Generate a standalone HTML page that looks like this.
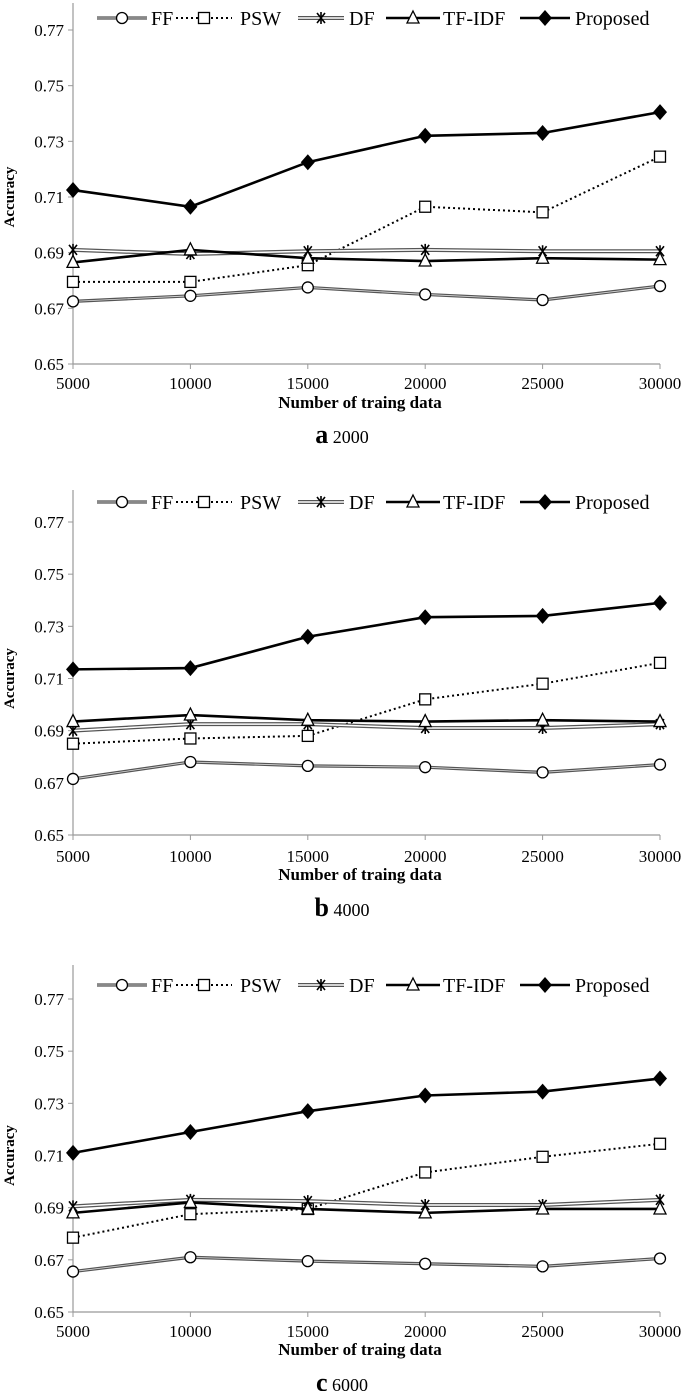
<!DOCTYPE html>
<html><head><meta charset="utf-8"><style>
body{margin:0;background:#fff;}
svg{display:block;font-family:"Liberation Serif",serif;}
</style></head><body>
<svg id="chart" width="685" height="1391" viewBox="0 0 685 1391"></svg>
<script>
const categories=[5000,10000,15000,20000,25000,30000];
const yTicks=[0.65,0.67,0.69,0.71,0.73,0.75,0.77];
const seriesNames=["FF","PSW","DF","TF-IDF","Proposed"];
const captions=[["a","2000"],["b","4000"],["c","6000"]];
const ffA=[.6725,.6745,.6775,.675,.673,.678];
const pswA=[.6795,.6795,.6855,.7065,.7045,.7245];
const dfA=[.691,.6895,.6905,.691,.6905,.6905];
const tfA=[.6865,.691,.688,.687,.688,.6875];
const propA=[.7125,.7065,.7225,.732,.733,.7405];
const ffB=[.6715,.678,.6765,.676,.674,.677];
const pswB=[.685,.687,.688,.702,.708,.716];
const dfB=[.690,.6925,.6925,.691,.691,.6925];
const tfB=[.6935,.696,.694,.6935,.694,.6935];
const propB=[.7135,.714,.726,.7335,.734,.739];
const ffC=[.6655,.671,.6695,.6685,.6675,.6705];
const pswC=[.6785,.6875,.6895,.7035,.7095,.7145];
const dfC=[.6905,.693,.6925,.691,.691,.693];
const tfC=[.688,.692,.6895,.688,.6895,.6895];
const propC=[.711,.719,.727,.733,.7345,.7395];
const panelData=[[ffA,pswA,dfA,tfA,propA],[ffB,pswB,dfB,tfB,propB],[ffC,pswC,dfC,tfC,propC]];
const layouts=[{y77:30,y65:364,top:3,leg:18,tick:383,title:402,cap:437},
{y77:522,y65:835,top:490,leg:502,tick:856,title:874,cap:910},
{y77:999,y65:1312,top:965,leg:985,tick:1331,title:1349,cap:1385}];
const NS="http://www.w3.org/2000/svg";
const svg=document.getElementById('chart');
function mk(tag,attrs,parent,text){const e=document.createElementNS(NS,tag);for(const k in attrs)e.setAttribute(k,attrs[k]);if(text!==undefined)e.textContent=text;(parent||svg).appendChild(e);return e;}
const X0=73,X1=660;
function xs(i){return X0+(X1-X0)*i/(categories.length-1);}
function drawMarker(g,k,x,y){
 if(k===0)mk('circle',{cx:x,cy:y,r:5.5,fill:'#fff',stroke:'#000','stroke-width':1.3},g);
 else if(k===1)mk('rect',{x:x-5.5,y:y-5.5,width:11,height:11,fill:'#fff',stroke:'#000','stroke-width':1.3},g);
 else if(k===2){mk('path',{d:`M${x-4},${y-5}L${x+4},${y+5}M${x+4},${y-5}L${x-4},${y+5}M${x},${y-6}L${x},${y+6}`,stroke:'#000','stroke-width':1.6},g);}
 else if(k===3)mk('polygon',{points:`${x},${y-7} ${x+6},${y+5} ${x-6},${y+5}`,fill:'#fff',stroke:'#000','stroke-width':1.3},g);
 else mk('polygon',{points:`${x},${y-8} ${x+7},${y} ${x},${y+8} ${x-7},${y}`,fill:'#000'},g);
}
function drawLine(g,k,pts){
 const d=pts.map((p,i)=>(i?'L':'M')+p[0]+','+p[1]).join('');
 if(k===0){mk('path',{d,fill:'none',stroke:'#555','stroke-width':3.2},g);mk('path',{d,fill:'none',stroke:'#ddd','stroke-width':0.8},g);}
 else if(k===1)mk('path',{d,fill:'none',stroke:'#000','stroke-width':2,'stroke-dasharray':'2,3'},g);
 else if(k===2){mk('path',{d,fill:'none',stroke:'#555','stroke-width':4},g);mk('path',{d,fill:'none',stroke:'#fff','stroke-width':1.5},g);}
 else mk('path',{d,fill:'none',stroke:'#000','stroke-width':2.6},g);
}
const legX=[[97,147,151],[176,232,240],[298,344,349],[386,440,443],[520,570,575]];
layouts.forEach((L,p)=>{
 const g=mk('g',{});
 
 
 const ys=v=>L.y65+(L.y77-L.y65)*(v-0.65)/0.12;
 const ax=mk('path',{d:`M${X0},${L.top}L${X0},${L.y65}L${X1},${L.y65}`,fill:'none',stroke:'#999','stroke-width':1.2},g);
 
 yTicks.forEach(t=>{const y=ys(t);mk('line',{x1:X0-5,x2:X0,y1:y,y2:y,stroke:'#999'},g);
  const tx=mk('text',{x:X0-9,y:y+6,'text-anchor':'end','font-size':17},g,t.toFixed(2));
  });
 categories.forEach((c,i)=>{const x=xs(i);mk('line',{x1:x,x2:x,y1:L.y65,y2:L.y65+5,stroke:'#999'},g);
  const tx=mk('text',{x:x,y:L.tick+6,'text-anchor':'middle','font-size':17},g,String(c));
  });
 const xt=mk('text',{x:360,y:L.title+6,'text-anchor':'middle','font-size':17,'font-weight':'bold'},g,'Number of traing data');
 
 const cy=(L.y77+L.y65)/2;
 const yt=mk('text',{x:14,y:cy,'text-anchor':'middle','font-size':15,'font-weight':'bold',transform:`rotate(-90 14 ${cy})`},g,'Accuracy');
 
 const cap=mk('text',{x:342,y:L.cap+6,'text-anchor':'middle','font-size':18},g);
 
 mk('tspan',{'font-size':26,'font-weight':'bold'},cap,captions[p][0]);
 mk('tspan',{},cap,' '+captions[p][1]);
 panelData[p].forEach((vals,k)=>{
  const sg=mk('g',{},g);
  
  
  const pts=vals.map((v,i)=>[xs(i),ys(v)]);
  drawLine(sg,k,pts);
  pts.forEach(pt=>drawMarker(sg,k,pt[0],pt[1]));
 });
 legX.forEach((lx,k)=>{
  const lg=mk('g',{},g);
  
  
  drawLine(lg,k,[[lx[0],L.leg],[lx[1],L.leg]]);
  drawMarker(lg,k,(lx[0]+lx[1])/2,L.leg);
  mk('text',{x:lx[2],y:L.leg+7,'font-size':20},lg,seriesNames[k]);
 });
});
</script>
</body></html>
